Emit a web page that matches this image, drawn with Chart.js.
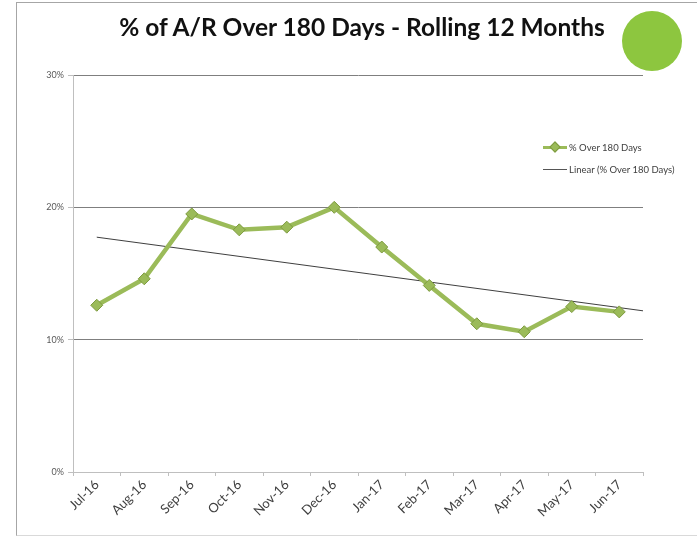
<!DOCTYPE html>
<html>
<head>
<meta charset="utf-8">
<script src="https://cdn.jsdelivr.net/npm/chart.js@4.4.1/dist/chart.umd.min.js"></script>
<style>
  html, body { margin:0; padding:0; background:#fff; }
  #wrap { position:relative; width:697px; height:539px; overflow:hidden; font-family:Lato, "Open Sans", sans-serif; }
  #frame { position:absolute; left:16px; top:2px; width:690px; height:534px; border-left:1px solid #a6a6a6; border-top:1px solid #a6a6a6; border-bottom:1px solid #d9d9d9; box-sizing:border-box; }
  #title { position:absolute; left:0; width:724px; top:12px; text-align:center; font-weight:bold; font-size:24.5px; color:#111; font-family:Lato, "Open Sans", sans-serif; }
  #dot { position:absolute; left:622px; top:11px; width:60px; height:60px; border-radius:50%; background:#8DC63F; }
  #legend { position:absolute; left:543px; top:141px; font-size:9.5px; color:#404040; font-family:Lato, "Open Sans", sans-serif; }
  .li { position:relative; height:22px; line-height:14px; padding-left:26px; white-space:nowrap; }
  .sym1 { position:absolute; left:0; top:5px; width:24px; height:3px; background:#9BBB59; }
  .sym1 i { position:absolute; left:8px; top:-3px; width:6px; height:6px; background:#9BBB59; border:1px solid #7d9a3f; transform:rotate(45deg); }
  .sym2 { position:absolute; left:0; top:6px; width:24px; height:1px; background:#555; }
  canvas { position:absolute; left:0; top:0; }
</style>
</head>
<body>
<div id="wrap">
  <div id="frame"></div>
  <canvas id="c" width="697" height="539"></canvas>
  <div id="title">% of A/R Over 180 Days - Rolling 12 Months</div>
  <div id="dot"></div>
  <div id="legend">
    <div class="li"><span class="sym1"><i></i></span>% Over 180 Days</div>
    <div class="li"><span class="sym2"></span>Linear (% Over 180 Days)</div>
  </div>
</div>
<script>
const months = ["Jul-16","Aug-16","Sep-16","Oct-16","Nov-16","Dec-16","Jan-17","Feb-17","Mar-17","Apr-17","May-17","Jun-17"];
const pctOver180 = [12.6, 14.6, 19.5, 18.3, 18.5, 20.0, 17.0, 14.1, 11.2, 10.6, 12.5, 12.1];
const yTicks = [0, 10, 20, 30];
const seriesName = "% Over 180 Days";
const trendName = "Linear (% Over 180 Days)";

// least-squares linear trendline of the series (as Excel's "Linear" trendline), forward 0.5 period
const n = pctOver180.length;
const mx = (n - 1) / 2;
const my = pctOver180.reduce((a, b) => a + b, 0) / n;
let sxy = 0, sxx = 0;
pctOver180.forEach((v, i) => { sxy += (i - mx) * (v - my); sxx += (i - mx) * (i - mx); });
const slope = sxy / sxx;
const icpt = my - slope * mx;
const trendX = [0, n - 0.5];
const trendPts = trendX.map(x => ({ x: x, y: icpt + slope * x }));

new Chart(document.getElementById('c'), {
  type: 'line',
  data: {
    labels: months,
    datasets: [
      {
        label: trendName,
        data: trendPts,
        xAxisID: 'xt',
        borderColor: '#3f3f3f',
        borderWidth: 1,
        pointRadius: 0,
        fill: false,
        order: 2
      },
      {
        label: seriesName,
        data: pctOver180,
        xAxisID: 'x',
        borderColor: '#9BBB59',
        borderWidth: 4.5,
        pointStyle: 'rectRot',
        pointRadius: 6,
        pointBackgroundColor: '#9BBB59',
        pointBorderColor: '#7d9a3f',
        pointBorderWidth: 1,
        tension: 0,
        fill: false,
        order: 1
      }
    ]
  },
  options: {
    responsive: false,
    animation: false,
    layout: { padding: { left: 0, right: 54, top: 75, bottom: 0 } },
    plugins: { legend: { display: false }, tooltip: { enabled: false }, title: { display: false } },
    scales: {
      x: {
        type: 'category',
        offset: true,
        border: { color: '#bfbfbf', width: 1 },
        grid: { display: true, drawOnChartArea: false, offset: true, tickLength: 4, color: '#bfbfbf' },
        ticks: { color: '#404040', font: { family: 'Lato, "Open Sans", sans-serif', size: 13 }, minRotation: 45, maxRotation: 45, autoSkip: false, padding: 1 },
        afterFit: s => { s.height = 67; }
      },
      xt: {
        type: 'linear',
        display: false,
        min: -0.5,
        max: n - 0.5
      },
      y: {
        type: 'linear',
        min: 0,
        max: 30,
        afterBuildTicks: s => { s.ticks = yTicks.map(v => ({ value: v })); },
        border: { color: '#bfbfbf', width: 1 },
        grid: { color: (ctx) => ctx.tick && ctx.tick.value === 0 ? '#bfbfbf' : '#7f7f7f', tickLength: 5, tickColor: '#bfbfbf' },
        ticks: { color: '#595959', font: { family: 'Lato, "Open Sans", sans-serif', size: 9 }, padding: 4, callback: v => v + '%' },
        afterFit: s => { s.width = 73; }
      }
    }
  }
});
</script>
</body>
</html>
